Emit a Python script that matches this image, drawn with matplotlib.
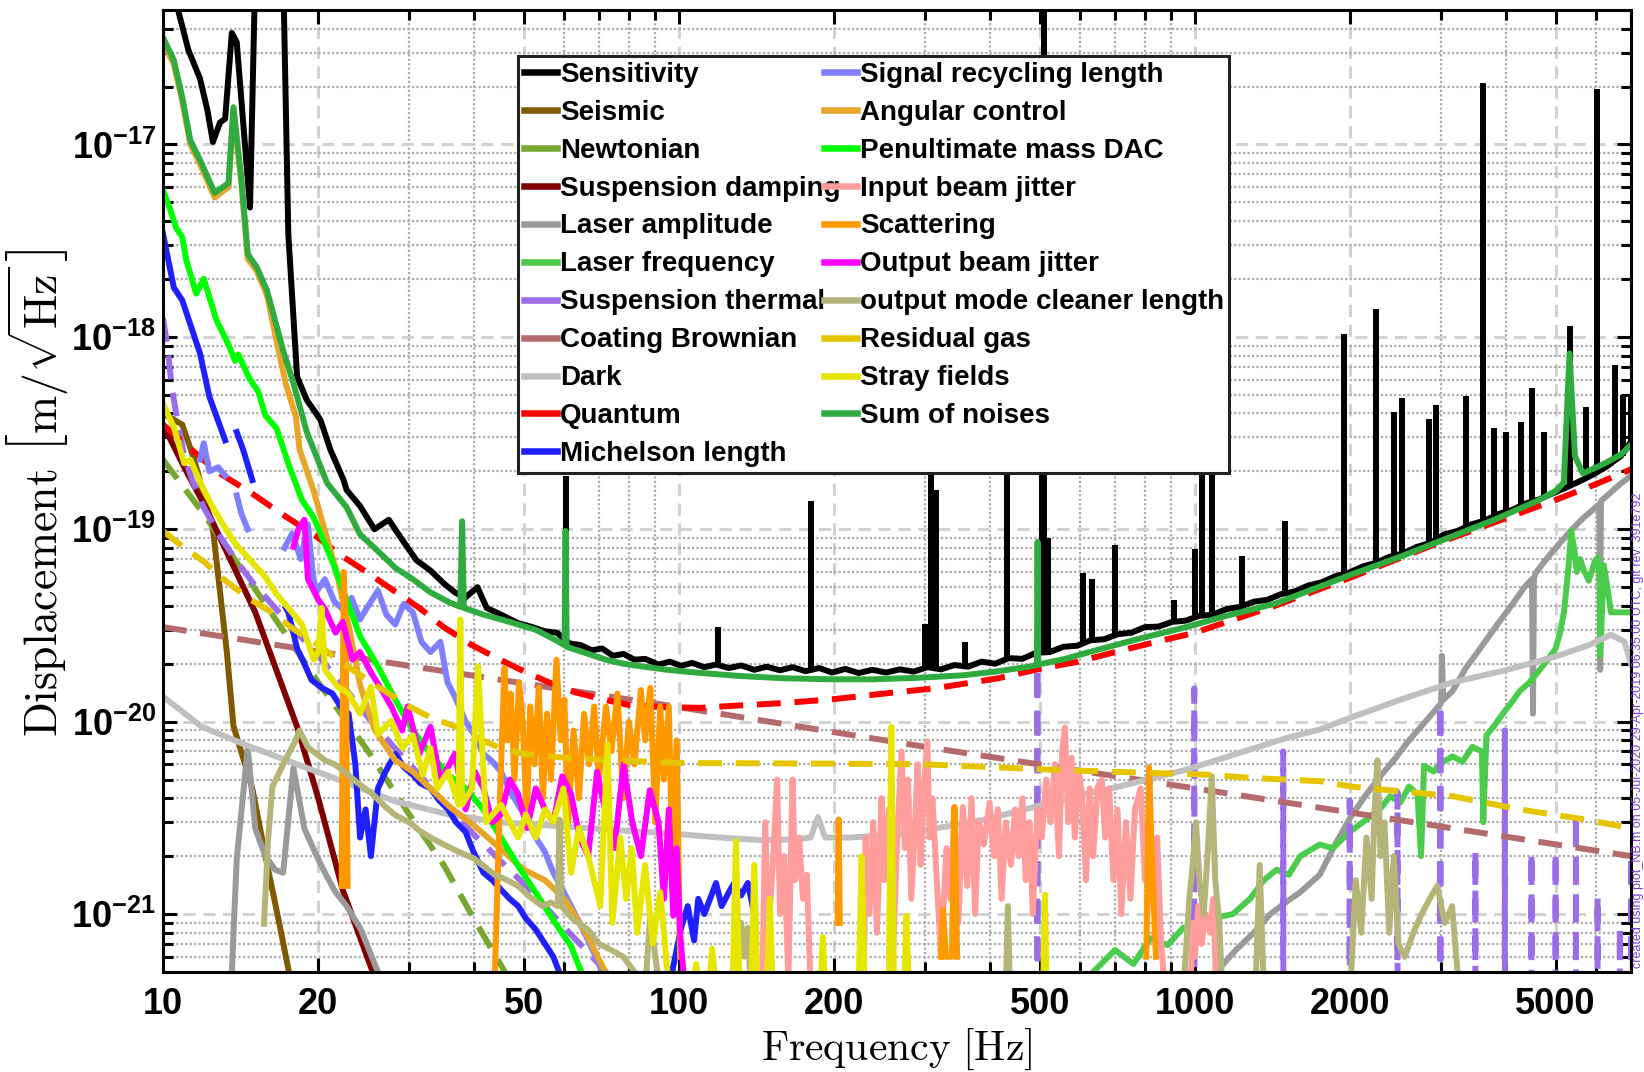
import matplotlib.pyplot as plt
import numpy as np

plt.rcParams['font.family'] = ['Liberation Sans', 'DejaVu Sans']
plt.rcParams['mathtext.rm'] = 'Liberation Sans:bold'
plt.rcParams['mathtext.it'] = 'Liberation Sans:bold:italic'
plt.rcParams['mathtext.bf'] = 'Liberation Sans:bold'

nan = np.nan

# ---------------------------------------------------------------- data
# measured displacement sensitivity (broadband part)
sens_f = [10.0, 10.7, 11.2, 11.8, 12.2, 12.5, 12.9, 13.2, 13.6, 13.9, 14.75, 15.1, 15.6, 16.5, 17.1,
          17.5, 18.2, 19.0, 20.2, 21.1, 22.4, 22.7, 24.1, 25.7, 27.4, 29.1, 31.0, 33.0, 35.1, 36.8,
          38.5, 40.7, 42.4, 45.2, 48.8, 52.0, 55.0, 58.0, 61.4, 64.5, 67.8, 71.0, 74.5, 78.1, 82.0,
          86.0, 91.3, 96.0, 101, 106, 112, 118, 125, 132, 140, 148, 157, 166, 176, 187, 198, 210,
          223, 237, 252, 268, 285, 303, 322, 342, 363, 386, 410, 436, 463, 492, 523, 556, 591, 628,
          667, 709, 753, 800, 850, 903, 960, 1020, 1084, 1152, 1224, 1300, 1382, 1468, 1560, 1658,
          1761, 1871, 1988, 2113, 2245, 2385, 2534, 2693, 2861, 3040, 3230, 3432, 3647, 3875, 4117,
          4375, 4648, 4939, 5248, 5576, 5924, 6295, 6688, 7000]
sens_v = [8e-17, 5.0e-17, 3.1e-17, 2.2e-17, 1.5e-17, 1.03e-17, 1.3e-17, 1.36e-17, 3.8e-17, 3.4e-17,
          4.7e-18, 8e-17, 2e-16, 2e-16, 8e-17, 3.4e-18, 6.2e-19, 4.7e-19, 3.7e-19, 2.6e-19, 1.8e-19,
          1.6e-19, 1.32e-19, 1.0e-19, 1.12e-19, 8.8e-20, 6.9e-20, 6.1e-20, 5.2e-20, 4.7e-20, 4.4e-20,
          5.0e-20, 3.9e-20, 3.6e-20, 3.25e-20, 3.1e-20, 2.95e-20, 2.9e-20, 2.55e-20, 2.5e-20, 2.35e-20,
          2.4e-20, 2.2e-20, 2.25e-20, 2.1e-20, 2.12e-20, 1.98e-20, 2.05e-20, 1.95e-20, 2.02e-20,
          1.92e-20, 1.98e-20, 1.9e-20, 1.96e-20, 1.86e-20, 1.93e-20, 1.85e-20, 1.92e-20, 1.83e-20,
          1.9e-20, 1.8e-20, 1.88e-20, 1.79e-20, 1.86e-20, 1.8e-20, 1.87e-20, 1.82e-20, 1.92e-20,
          1.87e-20, 1.97e-20, 1.93e-20, 2.05e-20, 2.0e-20, 2.14e-20, 2.12e-20, 2.28e-20, 2.3e-20,
          2.45e-20, 2.48e-20, 2.65e-20, 2.68e-20, 2.85e-20, 2.9e-20, 3.1e-20, 3.12e-20, 3.3e-20,
          3.35e-20, 3.55e-20, 3.6e-20, 3.85e-20, 3.95e-20, 4.2e-20, 4.3e-20, 4.6e-20, 4.75e-20,
          5.1e-20, 5.3e-20, 5.7e-20, 5.95e-20, 6.4e-20, 6.7e-20, 7.2e-20, 7.5e-20, 8.1e-20, 8.5e-20,
          9.4e-20, 9.8e-20, 1.06e-19, 1.11e-19, 1.2e-19, 1.26e-19, 1.36e-19, 1.43e-19, 1.54e-19,
          1.65e-19, 1.78e-19, 1.93e-19, 2.13e-19, 2.4e-19, 2.85e-19]

# narrow lines in the sensitivity: frequency, floor, peak
line_f = [60.3, 119, 180, 300, 308, 315, 358, 433, 505, 510, 518, 607, 633, 700, 910, 1000, 1030,
          1081, 1236, 1496, 1944, 2245, 2430, 2523, 2842, 2930, 3352, 3621, 3803, 4006, 4283, 4495,
          4753, 5321, 5733, 6026, 6509, 6752, 7000]
line_floor = [2.6e-20, 1.97e-20, 1.85e-20, 1.9e-20, 1.9e-20, 1.9e-20, 1.95e-20, 2.1e-20, 2.3e-20,
              2.3e-20, 2.3e-20, 2.55e-20, 2.6e-20, 2.8e-20, 3.3e-20, 3.5e-20, 3.55e-20, 3.6e-20,
              4.0e-20, 4.6e-20, 5.9e-20, 6.7e-20, 7.3e-20, 7.5e-20, 8.5e-20, 8.8e-20, 1.0e-19,
              1.08e-19, 1.15e-19, 1.22e-19, 1.3e-19, 1.37e-19, 1.45e-19, 1.65e-19, 1.82e-19, 1.95e-19,
              2.25e-19, 2.4e-19, 2.8e-19]
line_peak = [1.9e-19, 3.1e-20, 1.4e-19, 3.2e-20, 2.5e-19, 1.6e-19, 2.6e-20, 2.5e-19, 2.2e-19, 6e-17,
             9e-20, 5.9e-20, 5.5e-20, 8.3e-20, 4.3e-20, 7.9e-20, 8.9e-19, 6.25e-19, 7.3e-20, 1.1e-19,
             1.04e-18, 1.4e-18, 4.07e-19, 4.8e-19, 3.73e-19, 4.4e-19, 4.9e-19, 2.09e-17, 3.35e-19,
             3.2e-19, 3.6e-19, 5.4e-19, 3.2e-19, 1.14e-18, 4.3e-19, 1.95e-17, 7.1e-19, 5.0e-19, 5.0e-19]

seismic_f = [10, 10.9, 11.5, 12.5, 13.3, 13.7, 14.9, 15.8, 16.8, 17.6]
seismic_v = [4.0e-19, 3.5e-19, 2.3e-19, 1.0e-19, 2.3e-20, 9.5e-21, 4.5e-21, 2.0e-21, 9e-22, 4.8e-22]

newtonian_f = [10, 12, 15, 20, 25, 30, 35, 40, 46]
newtonian_v = [2.3e-19, 1.2e-19, 5.0e-20, 1.6e-20, 7.0e-21, 3.3e-21, 1.8e-21, 9.5e-22, 5e-22]

susp_damp_f = [10, 11, 12.1, 15.1, 18.2, 20, 22.3, 25.5]
susp_damp_v = [3.5e-19, 2.1e-19, 1.3e-19, 3.7e-20, 9.4e-21, 4.0e-21, 1.34e-21, 5e-22]

laser_amp_f = [13.6, 13.9, 14.6, 15.1, 15.8, 16.5, 17.1, 17.9, 18.8, 19.7, 20.6, 21.6, 22.7, 24.2,
               26.1, nan,
               1100, 1200, 1300, 1400, 1500, 1600, 1745, 1870, 2004, 2150, 2300, 2450, 2600, 2750,
               2900, 3000, 3010, 3030, 3155, 3350, 3530, 3720, 3920, 4130, 4350, 4500, 4520, 4540,
               4590, 4840, 5100, 5380, 5670, 5980, 6080, 6100, 6120, 6300, 6640, 7000]
laser_amp_v = [5e-22, 1.93e-21, 7.3e-21, 2.78e-21, 2.0e-21, 1.7e-21, 1.64e-21, 5.75e-21, 2.78e-21,
               2.1e-21, 1.64e-21, 1.3e-21, 1.1e-21, 8.3e-22, 5e-22, nan,
               5e-22, 6.5e-22, 8e-22, 1.0e-21, 1.15e-21, 1.3e-21, 1.6e-21, 2.3e-21, 3.2e-21, 4.2e-21,
               5.3e-21, 6.5e-21, 8e-21, 9.5e-21, 1.12e-20, 1.25e-20, 2.2e-20, 1.3e-20, 1.44e-20,
               1.9e-20, 2.3e-20, 2.8e-20, 3.4e-20, 4.1e-20, 5.0e-20, 5.5e-20, 1.1e-20, 5.6e-20, 6.0e-20,
               7.2e-20, 8.5e-20, 1.0e-19, 1.15e-19, 1.3e-19, 1.35e-19, 1.86e-20, 1.4e-19, 1.5e-19,
               1.7e-19, 1.9e-19]

laser_freq_f = [635, 700, 760, 820, 885, 950, 1010, 1080, 1184, 1279, 1360, 1440, 1520, 1600, 1745,
                1850, 2004, 2150, 2300, 2391, 2500, 2600, 2700, 2743, 2780, 2900, 3000, 3155, 3300,
                3450, 3600, 3620, 3672, 3800, 3950, 4100, 4260, 4450, 4650, 4810, 5000, 5100, 5190,
                5300, 5360, 5430, 5500, 5580, 5660, 5800, 5950, 6050, 6090, 6100, 6200, 6300, 6400,
                6550, 6700, 6850, 7000]
laser_freq_v = [5e-22, 6.5e-22, 5.5e-22, 7.5e-22, 6.9e-22, 8.5e-22, 8e-22, 9.5e-22, 1.0e-21, 1.2e-21,
                1.5e-21, 1.7e-21, 1.6e-21, 2.0e-21, 2.3e-21, 2.2e-21, 2.7e-21, 3.1e-21, 3.6e-21,
                4.1e-21, 3.8e-21, 4.6e-21, 4.2e-21, 2.0e-21, 5.9e-21, 5.5e-21, 6.1e-21, 6.6e-21,
                6.2e-21, 7.4e-21, 7.0e-21, 3.0e-21, 8.5e-21, 9.5e-21, 1.1e-20, 1.25e-20, 1.44e-20,
                1.6e-20, 1.85e-20, 2.07e-20, 2.4e-20, 2.9e-20, 3.7e-20, 6.5e-20, 9.8e-20, 8.0e-20,
                6.0e-20, 7.0e-20, 6.2e-20, 5.4e-20, 6.8e-20, 7.2e-20, 5.0e-20, 2.2e-20, 6.5e-20,
                5.0e-20, 3.7e-20, 3.7e-20, 3.7e-20, 3.7e-20, 3.7e-20]

susp_therm_f = [10.0, 10.2, 10.4, 10.7, 11.0, 11.4, 12.0, 12.8, 13.8, 15.0, 16.5, 18.0, 20.0, 22.5,
                25.0, 28.0, 32.0, 36.0, 40.0, 45.0, 52.0, 60.0, 70.0, 85.0, 120.0,
                493, 495, 497, 995, 997, 999, 1481, 1483, 1485, 1993, 1995, 1997, 2466, 2469, 2472,
                2987, 2990, 2993, 3492, 3495, 3498, 3984, 3987, 3990, 4487, 4490, 4493, 4997, 5000,
                5003, 5472, 5475, 5478, 6027, 6030, 6033, 6657, 6660, 6663, 6990, 7000]
susp_therm_v = [1.25e-18, 9e-19, 5.5e-19, 3.5e-19, 2.4e-19, 1.8e-19, 1.3e-19, 9.5e-20, 7e-20,
                5.2e-20, 3.9e-20, 3.0e-20, 2.2e-20, 1.5e-20, 1.05e-20, 7.4e-21, 5e-21, 3.5e-21,
                2.6e-21, 1.9e-21, 1.3e-21, 8.5e-22, 5.5e-22, 3e-22, 1e-22,
                1e-23, 1.93e-20, 1e-23, 1e-23, 1.49e-20, 1e-23, 1e-23, 7.0e-21, 1e-23, 1e-23, 3.9e-21,
                1e-23, 1e-23, 4.3e-21, 1e-23, 1e-23, 1.23e-20, 1e-23, 1e-23, 2.15e-21, 1e-23, 1e-23,
                9e-21, 1e-23, 1e-23, 2.1e-21, 1e-23, 1e-23, 2.1e-21, 1e-23, 1e-23, 3.3e-21, 1e-23,
                1e-23, 1.24e-21, 1e-23, 1e-23, 8.6e-22, 1e-23, 1e-23, 2.05e-21]

coating_f = [10, 30, 100, 300, 1000, 3000, 7000]
coating_v = [3.1e-20, 1.95e-20, 1.19e-20, 7.4e-21, 4.5e-21, 2.85e-21, 2.0e-21]

dark_f = [10, 11.9, 14.6, 18.2, 22.3, 28.2, 35.7, 45, 60, 80, 97, 120, 145, 170, 180, 186, 192, 215,
          267, 330, 392, 450, 526, 635, 714, 830, 956, 1100, 1286, 1500, 1745, 2004, 2500, 3155,
          4000, 5000, 5800, 6400, 6800, 7000]
dark_v = [1.35e-20, 9.4e-21, 7.5e-21, 6.0e-21, 4.9e-21, 3.85e-21, 3.3e-21, 3.0e-21, 2.85e-21, 2.7e-21,
          2.62e-21, 2.5e-21, 2.42e-21, 2.45e-21, 2.5e-21, 3.2e-21, 2.5e-21, 2.5e-21, 2.6e-21, 2.85e-21,
          3.1e-21, 3.4e-21, 3.8e-21, 4.3e-21, 4.6e-21, 5.1e-21, 5.6e-21, 6.3e-21, 7.2e-21, 8.2e-21,
          9.1e-21, 1.05e-20, 1.3e-20, 1.6e-20, 1.85e-20, 2.18e-20, 2.5e-20, 2.83e-20, 2.6e-20, 2.0e-20]

quantum_f = [10, 11, 12.7, 14.8, 17, 19.7, 22, 24.8, 28, 31.4, 35, 39.7, 45, 50, 56, 63, 70, 80, 93,
             110, 128, 160, 200, 250, 313, 415, 500, 594, 700, 867, 1000, 1429, 2000, 3000, 4000,
             5000, 6000, 7000]
quantum_v = [3.5e-19, 2.8e-19, 2.0e-19, 1.55e-19, 1.2e-19, 9.3e-20, 7.4e-20, 6.0e-20, 4.8e-20, 3.9e-20,
             3.1e-20, 2.5e-20, 2.1e-20, 1.83e-20, 1.6e-20, 1.42e-20, 1.32e-20, 1.22e-20, 1.19e-20,
             1.18e-20, 1.21e-20, 1.25e-20, 1.31e-20, 1.4e-20, 1.49e-20, 1.68e-20, 1.88e-20, 2.05e-20,
             2.3e-20, 2.65e-20, 2.9e-20, 4.0e-20, 5.6e-20, 8.6e-20, 1.14e-19, 1.42e-19, 1.72e-19,
             2.05e-19]

michelson_f = [10, 10.5, 10.9, 11.8, 12.3, 13.2, nan, 13.9, 14.3, 14.9, nan,
               17.3, 17.5, 18.2, 18.8, 19.4, 20.3, 21.3, 22.1, 22.9, 23.6, 24.1, 24.7, 25.3, 26.1,
               27.0, 28.2, 29.3, 30.5, 31.5, 33.0, 34.3, 35.7, 37.0, 38.6, 40.0, 41.8, 43.5, 45.2,
               47.0, 48.8, 50.5, 52.8, 55.0, 57.1, 59.5, nan,
               97, 101, 104, 107, 109, 112, 118, 121, 125, 128, 132, 136, 140]
michelson_v = [3.45e-18, 1.8e-18, 1.55e-18, 8.2e-19, 4.9e-19, 2.9e-19, nan, 3.2e-19, 2.6e-19, 1.8e-19,
               nan,
               3.9e-20, 3.7e-20, 2.4e-20, 2.0e-20, 1.65e-20, 1.5e-20, 1.4e-20, 1.2e-20, 1.1e-20, 6e-21,
               2.5e-21, 3.5e-21, 2.0e-21, 4.5e-21, 5.5e-21, 6.8e-21, 5.8e-21, 5.3e-21, 4.8e-21, 4.5e-21,
               3.9e-21, 3.5e-21, 3.0e-21, 2.67e-21, 2.1e-21, 1.64e-21, 1.5e-21, 1.34e-21, 1.2e-21,
               1.1e-21, 9.5e-22, 8.3e-22, 7e-22, 6e-22, 4.5e-22, nan,
               5e-22, 8.5e-22, 1.1e-21, 7.3e-22, 1.2e-21, 1.0e-21, 1.45e-21, 1.1e-21, 1.3e-21, 1.45e-21,
               1.25e-21, 1.45e-21, 1.0e-21]

srcl_f = [11.8, 12.0, 12.3, 12.8, 13.2, nan, 13.9, 14.2, 14.6, nan,
          17.2, 17.8, 18.5, 19.1, 19.5, 19.8, 20.6, 21.5, 22.3, 23.2, 24.1, 25.0, 26.1, 27.1, 28.2,
          29.3, 30.5, 31.7, 33, 34.5, 35.6, 36.8, 38.6, 40.2, 41.8, 43.5, 45.2, 47, 48.8, 50.8, 52.8,
          55, 57.1, 59.4, 61.8, 64.2, 66.7, 69, 71]
srcl_v = [2.3e-19, 2.8e-19, 2.0e-19, 2.1e-19, 1.9e-19, nan, 1.5e-19, 1.2e-19, 1.0e-19, nan,
          8e-20, 9.5e-20, 7e-20, 1.06e-19, 6e-20, 4.7e-20, 5.5e-20, 4.2e-20, 3.85e-20, 4.4e-20, 3.4e-20,
          4.0e-20, 4.8e-20, 3.6e-20, 3.2e-20, 4.1e-20, 3.7e-20, 2.6e-20, 2.3e-20, 2.6e-20, 1.6e-20,
          1.35e-20, 1.0e-20, 8.5e-21, 6.8e-21, 6.2e-21, 5.5e-21, 4.4e-21, 3.7e-21, 3.1e-21, 2.5e-21,
          2.1e-21, 1.64e-21, 1.35e-21, 1.1e-21, 9e-22, 7.3e-22, 6e-22, 5e-22]

angular_f = [10, 10.5, 10.9, 11.3, 11.8, 12.6, 13.4, 13.7, 14.2, 14.6, 15.2, 15.9, 17.3, 18.1, 18.4,
             19.6, 20.6, 21.6, 23, 24.1, 25.7, 28.2, 30.5, 33, 36, 40, 45, 50, 55, 60, 66, 72]
angular_v = [3.4e-17, 2.6e-17, 1.68e-17, 1.0e-17, 7.9e-18, 5.3e-18, 6.0e-18, 1.5e-17, 6.2e-18, 2.55e-18,
             2.2e-18, 1.65e-18, 5.7e-19, 3.84e-19, 2.6e-19, 1.58e-19, 9.8e-20, 6.3e-20, 3.0e-20,
             1.55e-20, 9.1e-21, 6.3e-21, 5.5e-21, 4.5e-21, 3.6e-21, 2.9e-21, 2.2e-21, 1.7e-21, 1.5e-21,
             1.2e-21, 8e-22, 5e-22]

pum_dac_f = [10, 10.3, 10.6, 10.9, 11.1, 11.6, 12.0, 12.7, 13.4, 13.8, 14.0, 14.7, 15.3, 15.8, 16.6,
             17.6, 18.6, 19.6, 21.3, 22.7, 24.1, 26.1, 28.2, 30.5, 33, 35.7, 38.6, 41.8, 45.2, 48.8,
             52.8, 57.1, 61.8, 64.7]
pum_dac_v = [5.8e-18, 4.7e-18, 3.7e-18, 3.3e-18, 2.5e-18, 1.68e-18, 2.0e-18, 1.22e-18, 9.1e-19, 7.5e-19,
             8.1e-19, 6.1e-19, 5.2e-19, 3.9e-19, 3.35e-19, 2.1e-19, 1.42e-19, 1.15e-19, 6.8e-20, 4.3e-20,
             2.78e-20, 1.94e-20, 1.3e-20, 9.0e-21, 6.8e-21, 5.3e-21, 4.5e-21, 3.5e-21, 2.5e-21,
             1.78e-21, 1.29e-21, 9.3e-22, 6.8e-22, 5e-22]

input_jitter_f = [145, 147, 149, 152, 155, 157, 160, 163, 166, 168, 171, 174, 177, 180, nan,
                  228, 230, 234, 238, 242, 247, 250, 255, 260, 265, 270, 274, 278, 282, 287, 290, 294,
                  298, 303, 306, 310, 316, 322, 330, 336, 342, 348, 355, 362, 369, 375, 381, 390, 400,
                  408, 415, 422, 430, 440, 448, 455, 463, 470, 478, 485, 495, 505, 515, 525, 535, 545,
                  553, 560, 568, 577, 585, 595, 604, 615, 625, 635, 648, 660, 670, 682, 695, 708, 720,
                  735, 750, 765, 785, 800, 815, 832, 845, 860, 875, nan,
                  980, 990, 1000, 1015, 1030, 1050, 1070, 1085, 1100]
input_jitter_v = [4e-22, 3.0e-21, 8e-22, 1.8e-21, 5.0e-21, 1.0e-21, 2.0e-21, 4.5e-22, 5.0e-21, 1.5e-21,
                  2.5e-21, 1.2e-21, 1.6e-21, 4e-22, nan,
                  4e-22, 2.5e-21, 1.0e-21, 3.0e-21, 8e-22, 4.0e-21, 1.5e-21, 3.5e-21, 6e-22, 2.6e-21,
                  7.0e-21, 2.2e-21, 5.0e-21, 1.2e-21, 3e-21, 6.0e-21, 1.8e-21, 4.5e-21, 7.9e-21, 2.5e-21,
                  4.0e-21, 1.5e-21, 6e-22, 2.2e-21, 1.2e-21, 3.6e-21, 9e-22, 3.6e-21, 1.4e-21, 4.0e-21,
                  1.0e-21, 3.0e-21, 2.3e-21, 3.8e-21, 2.0e-21, 3.5e-21, 1.2e-21, 3.0e-21, 1.8e-21,
                  3.5e-21, 2.0e-21, 4.0e-21, 1.5e-21, 3.0e-21, 1.0e-21, 3.5e-21, 2.5e-21, 5.0e-21,
                  3.0e-21, 6.0e-21, 2.0e-21, 7.0e-21, 9.3e-21, 3.0e-21, 6.5e-21, 2.5e-21, 5.5e-21,
                  4.3e-21, 1.5e-21, 4.5e-21, 2.0e-21, 4.6e-21, 5.0e-21, 2.5e-21, 4.5e-21, 1.5e-21,
                  3.5e-21, 1.0e-21, 3.0e-21, 1.2e-21, 3.5e-21, 4.5e-21, 1.5e-21, 3.0e-21, 1.0e-21,
                  2.5e-21, 7e-22, 4e-22, nan,
                  4e-22, 9e-22, 6e-22, 1.1e-21, 7e-22, 1.0e-21, 8e-22, 1.2e-21, 4e-22]

scatter_f = [22.2, 22.4, 22.6, 22.8, nan,
             44, 45, 45.9, 46.5, 47.2, 48, 49, 49.8, 50.7, 51.5, 52.5, 53.5, 54.5, 55.5, 56.5, 57.9, 59,
             60, 61, 62.5, 64, 65.5, 67, 68.5, 70, 72.2, 74, 76, 78, 80, 82, 84.4, 86, 88, 90, 92, 93.5,
             95.6, 97, 99, 100.5, nan,
             203, 204, 205, nan, 322, 325, 329, 338, 342, 346, nan, 805, 815, 825, 840]
scatter_v = [1.4e-21, 6.0e-20, 3e-20, 1.4e-21, nan,
             5e-22, 4e-21, 1.9e-20, 8e-21, 1.4e-20, 5e-21, 1.6e-20, 1.0e-20, 3e-21, 1.2e-20, 6e-21,
             1.5e-20, 4e-21, 1.1e-20, 5e-21, 2.1e-20, 8e-21, 1.3e-20, 3e-21, 9e-21, 4e-21, 1.1e-20, 6e-21,
             1.2e-20, 5e-21, 1.2e-20, 7e-21, 1.4e-20, 4e-21, 1.0e-20, 6e-21, 1.46e-20, 8e-21, 1.5e-20,
             3e-21, 1.2e-20, 5e-21, 1.2e-20, 2e-21, 8e-21, 6e-22, nan,
             9e-22, 3.1e-21, 9e-22, nan, 6e-22, 1.05e-21, 6e-22, 6e-22, 3.6e-21, 6e-22, nan,
             6e-22, 5.8e-21, 2e-21, 6e-22]

output_jitter_f = [17.9, 18.3, 18.8, 19.1, 20.0, 20.6, 21.6, 22.3, 23.3, 24.1, 25.3, 26.4, 27.7, 29.1,
                   29.8, 31.4, 33, 34.5, 36.8, 38.6, 40.2, 41.8, 43.5, 45.2, 47, 48.8, 50.8, 52.8, 55,
                   57.1, 59.4, 61.8, 64.2, 66.7, 69.4, 72.2, 75, 78.1, 81.2, 84.4, 87.8, 91.3, 93.5,
                   95.6, 97.5, 99, 100.5, 102]
output_jitter_v = [8.1e-20, 1.0e-19, 1.12e-19, 5.5e-20, 4.3e-20, 3.85e-20, 2.9e-20, 3.3e-20, 2.1e-20,
                   2.3e-20, 1.8e-20, 1.5e-20, 1.2e-20, 9e-21, 1.2e-20, 6.8e-21, 9.4e-21, 4.9e-21,
                   6.8e-21, 3.5e-21, 5.5e-21, 4.5e-21, 3.0e-21, 3.3e-21, 5.0e-21, 4.2e-21, 2.8e-21,
                   4.5e-21, 3.5e-21, 3.0e-21, 5.2e-21, 4.2e-21, 2.5e-21, 2.0e-21, 5.5e-21, 3.3e-21,
                   2.2e-21, 6.0e-21, 3.0e-21, 2.0e-21, 4.4e-21, 3.0e-21, 1.2e-21, 3.5e-21, 9.8e-22,
                   2.2e-21, 8e-22, 5e-22]

omc_f = [15.7, 16.0, 16.3, 17.0, 17.5, 18.0, 18.4, 19.1, 20.0, 20.6, 21.5, 22.3, 23.2, 24.1, 25.5, 27,
         28.2, 30, 31.5, 33, 35, 37.5, 40, 41.8, 44, 46.5, 48.8, 51, 54.4, 56.5, 58.2, 58.7, 59.2, 62,
         66.7, 70, 74, 78, 82, nan,
         86, 88, 90, 92, nan, 129, 132, 134, 136, 138, nan, 430, 434, 438, nan,
         950, 975, 990, 1005, 1020, 1040, 1060, 1078, 1095, 1115, 1130, nan, 1310, 1335, 1360, nan,
         2000, 2050, 2100, 2150, 2200, 2230, 2258, 2290, 2330, 2380, 2430, 2480, 2550, 2650, 2750,
         2850, 2948, 3050, 3150, 3250]
omc_v = [8.9e-22, 2.5e-21, 4.6e-21, 5.8e-21, 6.8e-21, 7.8e-21, 9e-21, 7.35e-21, 6.7e-21, 6.3e-21,
         6.0e-21, 5.6e-21, 5.1e-21, 4.7e-21, 4.2e-21, 3.6e-21, 3.27e-21, 3.0e-21, 2.7e-21, 2.5e-21,
         2.3e-21, 2.1e-21, 1.95e-21, 1.78e-21, 1.6e-21, 1.5e-21, 1.4e-21, 1.25e-21, 1.1e-21, 1.15e-21,
         1.1e-21, 3.1e-21, 1.1e-21, 9.5e-22, 8.3e-22, 7e-22, 6.5e-22, 6e-22, 5e-22, nan,
         4e-22, 1.0e-21, 6e-22, 4e-22, nan, 4e-22, 9e-22, 6e-22, 8.5e-22, 4e-22, nan,
         4e-22, 1.1e-21, 4e-22, nan,
         4e-22, 1.2e-21, 1.8e-21, 3.0e-21, 1.5e-21, 1.0e-21, 2.2e-21, 5.2e-21, 1.5e-21, 9e-22, 4e-22,
         nan, 4e-22, 1.8e-21, 4e-22, nan,
         4e-22, 1.5e-21, 8e-22, 2.5e-21, 1.2e-21, 3.5e-21, 6.3e-21, 2.0e-21, 3.0e-21, 8e-22, 2.0e-21,
         7e-22, 6e-22, 8e-22, 1.0e-21, 1.2e-21, 1.4e-21, 9e-22, 1.1e-21, 4e-22]

resid_gas_f = [10, 11, 12, 13, 14.6, 16, 18, 20, 22.7, 25, 27.4, 30, 33, 37, 40, 45, 50, 60, 75, 100,
               150, 200, 300, 550, 850, 1064, 1279, 1755, 2004, 3155, 4260, 5500, 7000]
resid_gas_v = [9.8e-20, 8.0e-20, 6.8e-20, 5.6e-20, 4.4e-20, 3.8e-20, 3.0e-20, 2.5e-20, 1.95e-20,
               1.64e-20, 1.4e-20, 1.2e-20, 1.05e-20, 9.4e-21, 8.4e-21, 7.3e-21, 6.8e-21, 6.5e-21,
               6.3e-21, 6.1e-21, 6.07e-21, 6.05e-21, 6.0e-21, 5.6e-21, 5.4e-21, 5.3e-21, 5.1e-21,
               4.9e-21, 4.6e-21, 4.1e-21, 3.5e-21, 3.15e-21, 2.8e-21]

stray_f = [10, 10.5, 11.0, 11.3, 12.0, 12.5, 13.1, 13.8, 14.7, 15.8, 16.6, 17.5, 18.6, 19.6, 20.0,
           20.3, 20.6, 21.8, 22.9, 24.1, 25.3, 26.1, 27.7, 29.1, 30.5, 31.9, 33, 34, 35.7, 37.4, 37.7,
           38.0, 39.7, 40.8, 42.3, 45.2, 48.8, 50.5, 52.8, 55, 57.1, 59.7, 61.8, 64, 66.7, 70.4, 72.7,
           74.3, 77, 79, 81, 83, 86, 89, 92, 95, nan,
           106, 108, 110, 114, 116, 118, 127, 129, 131, 138, 140, 142, 148, 150, 152, 188, 190, 192,
           223, 226, 229, 255, 258, 261, 273, 276, 279, 508, 512, 516]
stray_v = [4.5e-19, 3.4e-19, 2.2e-19, 2.3e-19, 1.6e-19, 1.3e-19, 1.05e-19, 8.45e-20, 7e-20, 5.65e-20,
           4.6e-20, 3.9e-20, 3.2e-20, 2.1e-20, 2.3e-20, 3.9e-20, 1.86e-20, 1.52e-20, 1.4e-20, 1.1e-20,
           1.52e-20, 8.6e-21, 1.01e-20, 7.3e-21, 8.5e-21, 5.3e-21, 7.3e-21, 4.5e-21, 5.5e-21, 3.7e-21,
           3.4e-20, 3.7e-21, 4.5e-21, 1.94e-20, 3.0e-21, 3.7e-21, 2.5e-21, 3.3e-21, 2.5e-21, 3.5e-21,
           3.0e-21, 4.5e-21, 1.64e-21, 2.8e-21, 2.0e-21, 1.1e-21, 7.6e-21, 9e-22, 2.5e-21, 1.2e-21,
           2.2e-21, 8e-22, 1.8e-21, 7e-22, 1.3e-21, 5e-22, nan,
           4e-22, 5.5e-22, 4e-22, 4e-22, 6.6e-22, 4e-22, 4e-22, 2.4e-21, 4e-22, 4e-22, 1.8e-21, 4e-22,
           4e-22, 1.2e-21, 4e-22, 4e-22, 7.6e-22, 4e-22, 4e-22, 2.0e-21, 4e-22, 4e-22, 9.4e-21, 4e-22,
           4e-22, 9.8e-22, 4e-22, 4e-22, 1.26e-21, 4e-22]

total_f = [10.0, 10.5, 10.9, 11.3, 11.8, 12.6, 13.4, 13.7, 14.2, 14.6, 15.2, 15.9, 17.1, 17.9, 19.0,
           20.8, 22.7, 24.1, 26.1, 28.2, 30.5, 33, 35.7, 37.7, 38.0, 38.3, 41.8, 45.2, 48.8, 52.8, 57,
           60.0, 60.3, 60.6, 66.7, 72.2, 78, 84.4, 95, 108, 130, 160, 200, 238, 290, 354, 410, 476,
           494, 495.5, 497, 560, 643, 780, 961, 1150, 1429, 1700, 2004, 2500, 3155, 3800, 4595, 5000,
           5187, 5321, 5450, 5648, 6227, 6700, 7000]
total_v = [3.6e-17, 2.74e-17, 1.76e-17, 1.05e-17, 8.3e-18, 5.6e-18, 6.3e-18, 1.56e-17, 6.5e-18, 2.7e-18,
           2.3e-18, 1.75e-18, 8.5e-19, 5.75e-19, 3.2e-19, 1.74e-19, 1.3e-19, 9.4e-20, 7.7e-20, 6.3e-20,
           5.5e-20, 4.7e-20, 4.2e-20, 3.95e-20, 1.1e-19, 3.9e-20, 3.6e-20, 3.4e-20, 3.2e-20, 3.0e-20,
           2.7e-20, 2.5e-20, 9.8e-20, 2.45e-20, 2.25e-20, 2.1e-20, 2.0e-20, 1.94e-20, 1.86e-20, 1.8e-20,
           1.73e-20, 1.68e-20, 1.66e-20, 1.66e-20, 1.69e-20, 1.74e-20, 1.82e-20, 1.93e-20, 1.97e-20,
           8.6e-20, 1.98e-20, 2.12e-20, 2.35e-20, 2.7e-20, 3.1e-20, 3.55e-20, 4.1e-20, 4.9e-20, 5.8e-20,
           7.2e-20, 9.2e-20, 1.12e-19, 1.4e-19, 1.58e-19, 1.75e-19, 8.2e-19, 2.4e-19, 1.95e-19, 2.2e-19,
           2.45e-19, 2.75e-19]

x_ticks = [10, 20, 50, 100, 200, 500, 1000, 2000, 5000]
x_tick_labels = ['10', '20', '50', '100', '200', '500', '1000', '2000', '5000']
x_minor = [30, 40, 60, 70, 80, 90, 300, 400, 600, 700, 800, 900, 3000, 4000, 6000, 7000]
y_ticks = [1e-21, 1e-20, 1e-19, 1e-18, 1e-17]
y_tick_labels = [r'$\mathbf{10^{-21}}$', r'$\mathbf{10^{-20}}$', r'$\mathbf{10^{-19}}$',
                 r'$\mathbf{10^{-18}}$', r'$\mathbf{10^{-17}}$']

# ---------------------------------------------------------------- figure
fig = plt.figure(figsize=(16.44, 10.72), dpi=100)
ax = fig.add_axes([0.0991, 0.0933, 0.8930, 0.8974])
ax.set_xscale('log')
ax.set_yscale('log')

LW = 4.3
DASH = (0, (4, 2.3))
series = [
    ('Sensitivity', sens_f, sens_v, 'black', '-'),
    ('Seismic', seismic_f, seismic_v, '#7f5a00', '-'),
    ('Newtonian', newtonian_f, newtonian_v, '#78a832', DASH),
    ('Suspension damping', susp_damp_f, susp_damp_v, '#800000', '-'),
    ('Laser amplitude', laser_amp_f, laser_amp_v, '#9a9a9a', '-'),
    ('Laser frequency', laser_freq_f, laser_freq_v, '#4ccc4c', '-'),
    ('Suspension thermal', susp_therm_f, susp_therm_v, '#9b6ee8', DASH),
    ('Coating Brownian', coating_f, coating_v, '#b56b6b', DASH),
    ('Dark', dark_f, dark_v, '#c0c0c0', '-'),
    ('Quantum', quantum_f, quantum_v, '#ff0000', DASH),
    ('Michelson length', michelson_f, michelson_v, '#2020ff', '-'),
    ('Signal recycling length', srcl_f, srcl_v, '#8080ff', '-'),
    ('Angular control', angular_f, angular_v, '#e8a628', '-'),
    ('Penultimate mass DAC', pum_dac_f, pum_dac_v, '#00ff00', '-'),
    ('Input beam jitter', input_jitter_f, input_jitter_v, '#ff9d9d', '-'),
    ('Scattering', scatter_f, scatter_v, '#ff9900', '-'),
    ('Output beam jitter', output_jitter_f, output_jitter_v, '#ff00ff', '-'),
    ('output mode cleaner length', omc_f, omc_v, '#b5b57a', '-'),
    ('Residual gas', resid_gas_f, resid_gas_v, '#e6c400', DASH),
    ('Stray fields', stray_f, stray_v, '#e6e600', '-'),
    ('Sum of noises', total_f, total_v, '#2fab3f', '-'),
]

handles = []
for i, (name, f, v, col, ls) in enumerate(series):
    h, = ax.plot(f, v, color=col, ls=ls, lw=LW, label=name, zorder=2 + 0.01 * i,
                 solid_joinstyle='round', dash_capstyle='butt')
    handles.append(h)
    if name == 'Sensitivity':
        ax.vlines(line_f, line_floor, line_peak, color='black', lw=LW, zorder=2)

ax.set_xlim(10, 7000)
ax.set_ylim(5e-22, 5e-17)

# ticks and grid
ax.set_xticks(x_ticks, x_tick_labels, fontsize=26, fontweight='bold')
ax.set_xticks(x_minor, minor=True)
ax.set_xticklabels([], minor=True)
ax.set_yticks(y_ticks, y_tick_labels, fontsize=26, math_fontfamily='custom')
ax.yaxis.set_minor_locator(plt.LogLocator(base=10, subs=np.arange(2, 10), numticks=20))
ax.yaxis.set_minor_formatter(plt.NullFormatter())
ax.tick_params(which='both', direction='in', top=True, right=True, width=2.2, colors='black')
ax.tick_params(which='major', length=10)
ax.tick_params(which='minor', length=7)
ax.tick_params(axis='x', which='major', pad=11)
ax.tick_params(axis='y', which='major', pad=5)
ax.set_axisbelow(True)
ax.grid(which='major', color='#d2d2d2', ls=(0, (4, 2.5)), lw=2.2)
ax.grid(which='minor', color='#ababab', ls=(0, (1, 1)), lw=1.6)
for s in ax.spines.values():
    s.set_linewidth(2.2)

fig.text(0.5455, 0.0, r'$\mathrm{Frequency}\ [\mathrm{Hz}]$', fontsize=30,
         math_fontfamily='cm', ha='center', va='bottom')
fig.text(0.0225, 0.54, r'$\mathrm{Displacement}\ \left[\mathrm{m}/\sqrt{\mathrm{Hz}}\,\right]$',
         fontsize=33, math_fontfamily='cm', rotation=90, ha='center', va='center')

leg = ax.legend(handles=handles, ncol=2, loc='upper left', bbox_to_anchor=(0.242, 0.952),
                borderaxespad=0, prop={'weight': 'bold', 'size': 20}, handlelength=1.2,
                handletextpad=0.1, labelspacing=0.43, columnspacing=-0.6, borderpad=0.2,
                fancybox=False, framealpha=1, edgecolor='#222222')
leg.get_frame().set_linewidth(2.2)
for ln in leg.get_lines():
    ln.set_linewidth(LW + 0.4)
    ln.set_linestyle('-')

fig.text(0.9966, 0.097, 'created using plot_NB.m on 05-Jul-2020 29-Apr-2019 06:35:00 UTC, git rev: 391e792',
         rotation=90, color='#7a3cd8', fontsize=9, ha='center', va='bottom')

fig.savefig('out.png', dpi=100)
